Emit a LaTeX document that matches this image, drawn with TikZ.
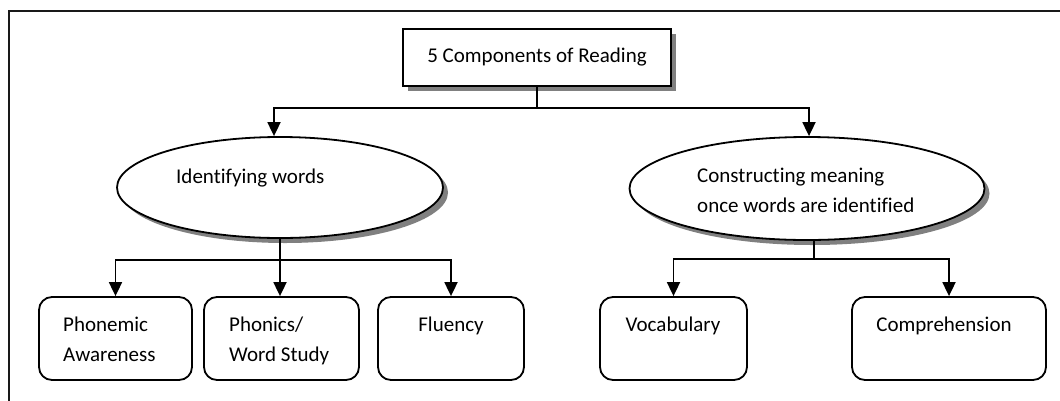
\documentclass[tikz,border=0pt]{standalone}
\usepackage{fontspec}
\setmainfont{Carlito}[Ligatures={NoCommon}]
\usetikzlibrary{arrows.meta,shapes.geometric,shadows,calc}
\begin{document}
\begin{tikzpicture}[x=1pt,y=-1pt,
  lbl/.style={inner sep=0pt,align=left,font=\fontsize{21}{29.5}\selectfont},
  shad/.style={drop shadow={shadow xshift=5pt,shadow yshift=-5pt,fill=black!50,opacity=1}},
  titlebox/.style={draw,line width=2pt,fill=white,minimum width=268pt,minimum height=57pt,inner sep=0pt,shad,font=\fontsize{21}{29.5}\selectfont},
  ell/.style={ellipse,draw,line width=1.8pt,fill=white,inner sep=0pt,shad},
  leaf/.style={draw,line width=1.8pt,rounded corners=13pt,inner sep=0pt,minimum height=83pt},
  arr/.style={line width=1.8pt,-{Triangle[width=13pt,length=14pt]}},
  ln/.style={line width=1.5pt}]
\useasboundingbox (0,0) rectangle (1060,400);
% outer frame
\draw[line width=2.4pt,black!90] (9,11) rectangle (1080,420);
% title
\node[titlebox] (title) at (537,57.5) {5 Components of Reading};
% ellipses
\node[ell,minimum width=326pt,minimum height=101pt] (e1) at (280,187.5) {};
\node[ell,minimum width=355pt,minimum height=103pt] (e2) at (807,188.5) {};
\node[lbl,anchor=base west] (e1t) at (176,183) {Identifying words};
\node[lbl,anchor=base west] (e2t) at (697,212) {Constructing meaning\\once words are identified};
% leaves
\node[leaf,minimum width=153pt] (b1) at (115.5,338.5) {};
\node[leaf,minimum width=155pt] (b2) at (281.5,338.5) {};
\node[leaf,minimum width=146pt] (b3) at (451,338.5) {};
\node[leaf,minimum width=147pt] (b4) at (673.5,338.5) {};
\node[leaf,minimum width=194pt] (b5) at (949,338.5) {};
\node[lbl,anchor=base west] (b1t) at (63,361) {Phonemic\\Awareness};
\node[lbl,anchor=base west] (b2t) at (229,361) {Phonics/\\Word Study};
\node[lbl,anchor=base] (b3t) at (451,331) {Fluency};
\node[lbl,anchor=base] (b4t) at (673,331) {Vocabulary};
\node[lbl,anchor=base] (b5t) at (944,331) {Comprehension};
% connectors
\coordinate (h0) at (537,108);
\coordinate (h1) at (280,260);
\coordinate (h2) at (814,259);
\draw[ln] (title.south) -- (h0);
\draw[arr] (h0) -| ([xshift=-6pt]e1.north);
\draw[arr] (h0) -| ([xshift=2pt]e2.north);
\draw[ln] (e1.south) -- (h1);
\draw[arr] (h1) -| (b1.north);
\draw[arr] (h1) -- (b2.north -| h1);
\draw[arr] (h1) -| (b3.north);
\draw[ln] ([xshift=7pt]e2.south) -- (h2);
\draw[arr] (h2) -| (b4.north);
\draw[arr] (h2) -| (b5.north);
\end{tikzpicture}
\end{document}
